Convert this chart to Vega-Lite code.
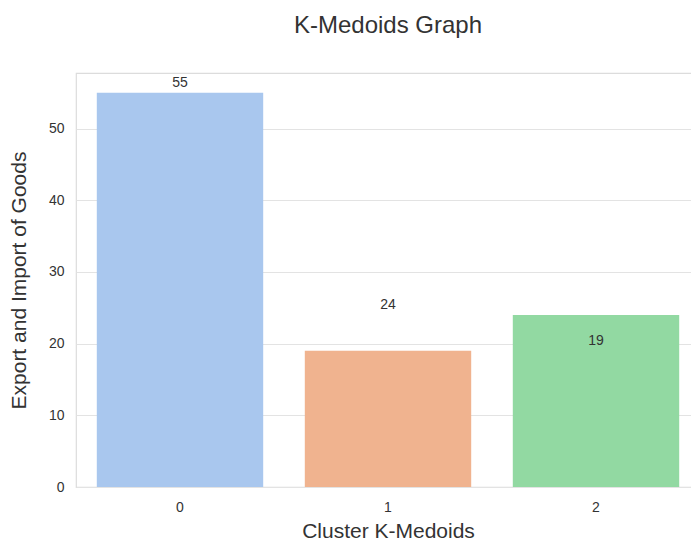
{
  "$schema": "https://vega.github.io/schema/vega-lite/v6.json",
  "autosize": "none",
  "width": 624,
  "height": 414,
  "padding": {"left": 76, "top": 73, "right": -9, "bottom": 55},
  "background": "white",
  "config": {
    "font": "Liberation Sans",
    "view": {"stroke": "#dcdcdc", "strokeWidth": 1.2},
    "axis": {"labelColor": "#333333", "titleColor": "#333333", "labelFontSize": 14, "titleFontSize": 21, "titleFontWeight": "normal", "ticks": false, "domain": false, "gridColor": "#e3e3e3", "gridWidth": 1}
  },
  "title": {"text": "K-Medoids Graph", "fontSize": 24, "fontWeight": "normal", "color": "#333333", "offset": 35, "anchor": "middle"},
  "data": {"values": [
    {"cluster": "0", "count": 55, "label": 55},
    {"cluster": "1", "count": 19, "label": 24},
    {"cluster": "2", "count": 24, "label": 19}
  ]},
  "encoding": {
    "x": {"field": "cluster", "type": "nominal", "title": "Cluster K-Medoids",
      "scale": {"paddingInner": 0.2, "paddingOuter": 0.1},
      "axis": {"labelAngle": 0, "labelPadding": 13, "titlePadding": 6, "grid": false}}
  },
  "layer": [
    {
      "mark": {"type": "bar"},
      "encoding": {
        "y": {"field": "count", "type": "quantitative", "title": "Export and Import of Goods",
          "scale": {"domain": [0, 57.75], "nice": false},
          "axis": {"values": [0, 10, 20, 30, 40, 50], "labelPadding": 12, "titlePadding": 19, "grid": true}},
        "color": {"field": "cluster", "type": "nominal", "legend": null,
          "scale": {"range": ["#a9c7ee", "#f0b38f", "#92d9a2"]}}
      }
    },
    {
      "mark": {"type": "text", "baseline": "middle", "dy": -10, "fontSize": 14, "color": "#333333"},
      "encoding": {
        "y": {"field": "label", "type": "quantitative"},
        "text": {"field": "label", "type": "quantitative"}
      }
    }
  ]
}
